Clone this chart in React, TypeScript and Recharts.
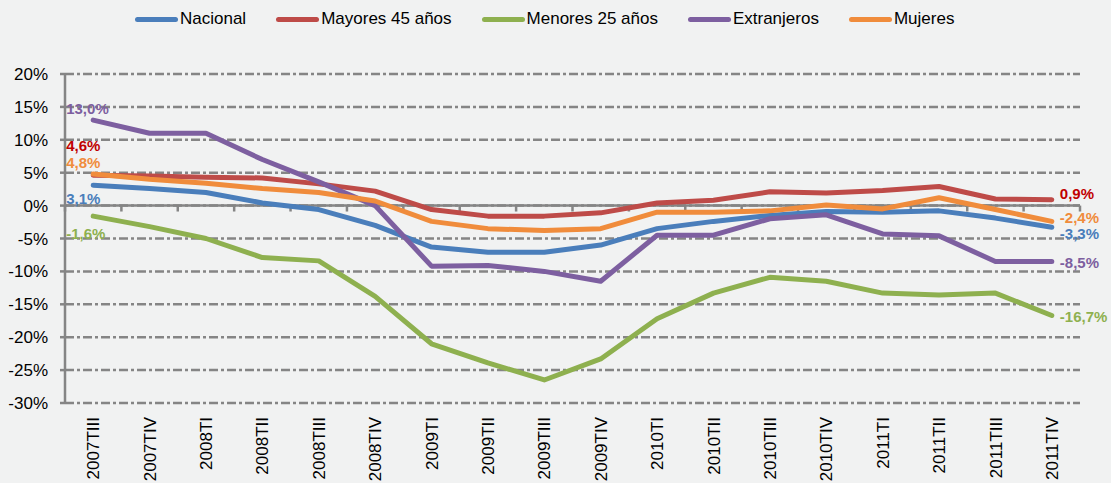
import React from 'react';
import { LineChart, Line, XAxis, YAxis, CartesianGrid, ReferenceLine } from 'recharts';

const categories = [
  '2007TIII', '2007TIV', '2008TI', '2008TII', '2008TIII', '2008TIV',
  '2009TI', '2009TII', '2009TIII', '2009TIV', '2010TI', '2010TII',
  '2010TIII', '2010TIV', '2011TI', '2011TII', '2011TIII', '2011TIV',
];
const nacional = [3.1, 2.6, 2.0, 0.4, -0.6, -3.0, -6.3, -7.1, -7.1, -6.0, -3.5, -2.4, -1.5, -0.9, -1.0, -0.8, -1.9, -3.3];
const mayores45 = [4.6, 4.5, 4.3, 4.2, 3.3, 2.2, -0.6, -1.6, -1.6, -1.1, 0.4, 0.8, 2.1, 1.9, 2.3, 2.9, 1.0, 0.9];
const menores25 = [-1.6, -3.2, -5.0, -7.9, -8.4, -13.8, -21.0, -23.9, -26.5, -23.3, -17.2, -13.3, -10.9, -11.5, -13.3, -13.6, -13.3, -16.7];
const extranjeros = [13.0, 11.0, 11.0, 7.0, 3.6, 0.0, -9.2, -9.1, -10.0, -11.5, -4.5, -4.5, -2.0, -1.4, -4.3, -4.6, -8.5, -8.5];
const mujeres = [4.8, 4.0, 3.4, 2.6, 2.0, 0.7, -2.4, -3.5, -3.8, -3.5, -1.0, -1.0, -0.8, 0.1, -0.5, 1.2, -0.6, -2.4];
const yTicks = [-30, -25, -20, -15, -10, -5, 0, 5, 10, 15, 20];

const data = categories.map((c, i) => ({
  x: i + 0.5,
  cat: c,
  nacional: nacional[i],
  mayores45: mayores45[i],
  menores25: menores25[i],
  extranjeros: extranjeros[i],
  mujeres: mujeres[i],
}));

const series = [
  { key: 'nacional', name: 'Nacional', color: '#4A7EBB', labelColor: '#4A7EBB', startDy: 14, endDy: 6 },
  { key: 'mayores45', name: 'Mayores 45 años', color: '#BE4B48', labelColor: '#C00000', startDy: -30, endDy: -6 },
  { key: 'menores25', name: 'Menores 25 años', color: '#8EB04F', labelColor: '#8EB04F', startDy: 18, endDy: 1 },
  { key: 'extranjeros', name: 'Extranjeros', color: '#7D5FA0', labelColor: '#7D5FA0', startDy: -11, endDy: 1 },
  { key: 'mujeres', name: 'Mujeres', color: '#F08C3C', labelColor: '#F08C3C', startDy: -11, endDy: -4 },
];

const FONT = '"Liberation Sans", Arial, sans-serif';
const GRAY = '#858585';
const last = categories.length - 1;

const fmt = (v: number) => v.toFixed(1).replace('.', ',') + '%';

const makeLabel = (s: typeof series[number]) => (props: any) => {
  const { x, y, index, value } = props;
  if (index !== 0 && index !== last) return null;
  const isStart = index === 0;
  return (
    <text
      x={isStart ? x - 27 : x + 8}
      y={y + (isStart ? s.startDy : s.endDy)}
      dy="0.35em"
      textAnchor="start"
      fill={s.labelColor}
      fontFamily={FONT}
      fontSize={15}
      fontWeight="bold"
    >
      {fmt(Number(value))}
    </text>
  );
};

const XTick = (props: any) => {
  const { x, y, payload } = props;
  const idx = Math.round(payload.value - 0.5);
  return (
    <text
      x={x}
      y={y + 6}
      transform={`rotate(-90, ${x}, ${y + 6})`}
      textAnchor="end"
      dy="0.36em"
      fill="#000"
      fontFamily={FONT}
      fontSize={17}
    >
      {categories[idx]}
    </text>
  );
};

const boundaries = Array.from({ length: categories.length + 1 }, (_, k) => k);

export default function App() {
  return (
    <div style={{ position: 'absolute', left: 0, top: 0, width: 1111, height: 483, background: '#F1F2F2', overflow: 'hidden' }}>
      <div
        style={{
          position: 'absolute',
          left: 135,
          top: 9,
          display: 'flex',
          gap: 30,
          alignItems: 'center',
          fontFamily: FONT,
          fontSize: 17,
          color: '#000',
          whiteSpace: 'nowrap',
        }}
      >
        {series.map((s) => (
          <div key={s.key} style={{ display: 'flex', alignItems: 'center' }}>
            <div style={{ width: 43, height: 5, borderRadius: 3, background: s.color, marginRight: 2 }} />
            <span>{s.name}</span>
          </div>
        ))}
      </div>
      <LineChart
        width={1111}
        height={483}
        data={data}
        margin={{ top: 74, right: 31, bottom: 0, left: 0 }}
        style={{ position: 'absolute', left: 0, top: 0 }}
      >
        <CartesianGrid
          horizontal
          vertical={false}
          stroke={GRAY}
          strokeWidth={2.5}
          strokeDasharray="9 3 3 3"
        />
        <XAxis
          dataKey="x"
          type="number"
          domain={[0, categories.length]}
          ticks={data.map((d) => d.x)}
          interval={0}
          axisLine={false}
          tickLine={false}
          height={80}
          tick={<XTick />}
        />
        <YAxis
          type="number"
          domain={[-30, 20]}
          ticks={yTicks}
          interval={0}
          width={65}
          axisLine={{ stroke: GRAY, strokeWidth: 2.5 }}
          tickLine={{ stroke: GRAY, strokeWidth: 2.5 }}
          tickSize={5}
          tickMargin={12}
          tickFormatter={(v: number) => `${v}%`}
          tick={{ fill: '#000', fontFamily: FONT, fontSize: 17 }}
        />
        <ReferenceLine y={0} stroke={GRAY} strokeWidth={2.5} />
        {boundaries.map((k) => (
          <ReferenceLine
            key={`b${k}`}
            segment={[{ x: k, y: 0 }, { x: k, y: -0.9 }]}
            stroke={GRAY}
            strokeWidth={2.5}
          />
        ))}
        {series.map((s) => (
          <Line
            key={s.key}
            type="linear"
            dataKey={s.key}
            name={s.name}
            stroke={s.color}
            strokeWidth={5}
            strokeLinejoin="round"
            strokeLinecap="round"
            dot={false}
            activeDot={false}
            isAnimationActive={false}
            label={makeLabel(s)}
          />
        ))}
      </LineChart>
    </div>
  );
}
